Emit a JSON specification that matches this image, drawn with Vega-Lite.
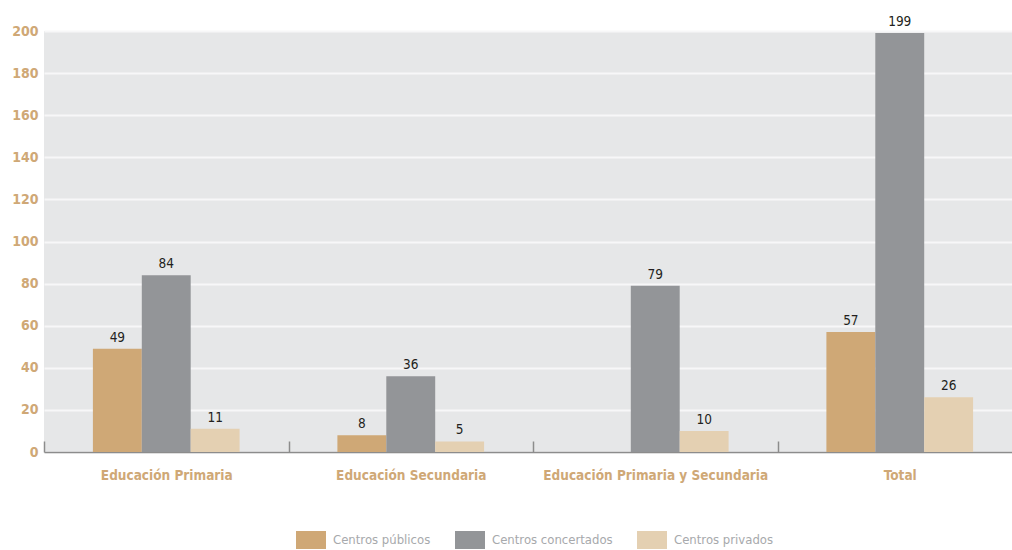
{
  "$schema": "https://vega.github.io/schema/vega-lite/v6.json",
  "width": 978,
  "height": 421,
  "autosize": "none",
  "padding": {"left": 44, "top": 31, "right": 0, "bottom": 99},
  "background": "white",
  "config": {
    "view": {"fill": "#e6e7e8", "stroke": null},
    "font": "DejaVu Sans Condensed, Roboto, sans-serif"
  },
  "data": {
    "values": [
      {"nivel": "Educación Primaria", "tipo": "Centros públicos", "valor": 49},
      {"nivel": "Educación Primaria", "tipo": "Centros concertados", "valor": 84},
      {"nivel": "Educación Primaria", "tipo": "Centros privados", "valor": 11},
      {"nivel": "Educación Secundaria", "tipo": "Centros públicos", "valor": 8},
      {"nivel": "Educación Secundaria", "tipo": "Centros concertados", "valor": 36},
      {"nivel": "Educación Secundaria", "tipo": "Centros privados", "valor": 5},
      {"nivel": "Educación Primaria y Secundaria", "tipo": "Centros concertados", "valor": 79},
      {"nivel": "Educación Primaria y Secundaria", "tipo": "Centros privados", "valor": 10},
      {"nivel": "Total", "tipo": "Centros públicos", "valor": 57},
      {"nivel": "Total", "tipo": "Centros concertados", "valor": 199},
      {"nivel": "Total", "tipo": "Centros privados", "valor": 26}
    ]
  },
  "encoding": {
    "x": {
      "field": "nivel",
      "type": "nominal",
      "sort": ["Educación Primaria", "Educación Secundaria", "Educación Primaria y Secundaria", "Total"],
      "scale": {"paddingInner": 0, "paddingOuter": 0},
      "axis": {
        "title": null,
        "labelAngle": 0,
        "labelFont": "DejaVu Sans Condensed, Roboto, sans-serif",
        "labelFontWeight": "bold",
        "labelFontSize": 13.5,
        "labelColor": "#cfa876",
        "labelPadding": 27,
        "labelLimit": 400,
        "tickBand": "extent",
        "tickSize": -11,
        "tickColor": "#8c8c8c",
        "tickWidth": 1.5,
        "domainColor": "#8c8c8c",
        "domainWidth": 1.5
      }
    },
    "xOffset": {
      "field": "tipo",
      "type": "nominal",
      "scale": {"domain": ["Centros públicos", "Centros concertados", "Centros privados"], "paddingInner": 0, "paddingOuter": 1}
    },
    "y": {
      "field": "valor",
      "type": "quantitative",
      "scale": {"domain": [0, 200], "nice": false},
      "axis": {
        "title": null,
        "values": [0, 20, 40, 60, 80, 100, 120, 140, 160, 180, 200],
        "domain": false,
        "ticks": false,
        "labelFont": "DejaVu Sans Condensed, Roboto, sans-serif",
        "labelFontWeight": "bold",
        "labelFontSize": 14,
        "labelColor": "#cfa876",
        "labelPadding": 6,
        "gridColor": "#f7f7f8",
        "gridWidth": 2
      }
    }
  },
  "layer": [
    {
      "mark": {"type": "bar"},
      "encoding": {
        "color": {
          "field": "tipo",
          "type": "nominal",
          "scale": {
            "domain": ["Centros públicos", "Centros concertados", "Centros privados"],
            "range": ["#cfa876", "#939598", "#e4d0b2"]
          },
          "legend": {
            "title": null,
            "orient": "none",
            "legendX": 252,
            "legendY": 494,
            "direction": "horizontal",
            "symbolType": "M-1,-0.6L1,-0.6L1,0.6L-1,0.6Z",
            "symbolSize": 900,
            "symbolStrokeWidth": 0,
            "symbolOpacity": 1,
            "labelFont": "DejaVu Sans Condensed, Roboto, sans-serif",
            "labelFontSize": 13,
            "labelColor": "#a7a9ac",
            "labelOffset": 7,
            "columnPadding": 24
          }
        }
      }
    },
    {
      "mark": {"type": "text", "dy": -11, "fontSize": 13.5, "color": "#231f20", "font": "DejaVu Sans Condensed, Roboto, sans-serif"},
      "encoding": {
        "text": {"field": "valor", "type": "quantitative"}
      }
    }
  ]
}
